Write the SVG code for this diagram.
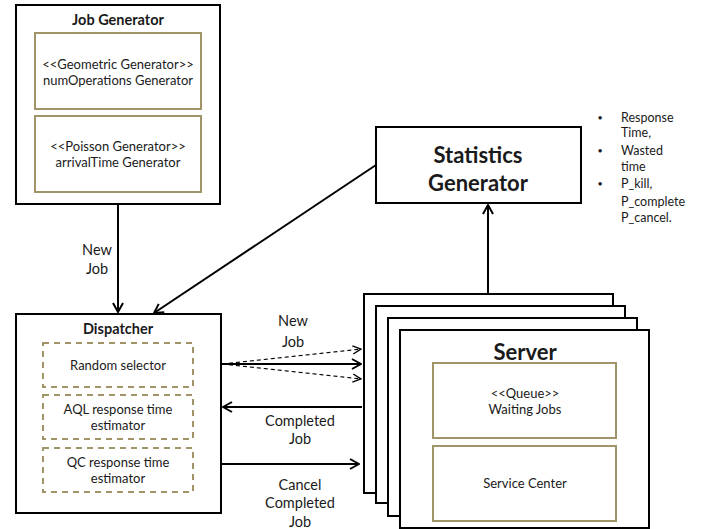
<svg xmlns="http://www.w3.org/2000/svg" width="716" height="529" viewBox="0 0 716 529">
<defs>
<style>
text{font-family:Lato,"Open Sans","Liberation Sans",sans-serif;fill:#1a1a1a;text-anchor:middle}
.box{fill:#fff;stroke:#000;stroke-width:2}
.inner{fill:#fff;stroke:#a09468;stroke-width:2}
.dash{fill:none;stroke:#a09468;stroke-width:2;stroke-dasharray:6,5}
.t{font-size:13px}
.h{font-size:14.5px;font-weight:bold}
.big{font-size:22px;font-weight:bold}
.lbl{font-size:14.5px}
.conn{fill:none;stroke:#000;stroke-width:2}
.dconn{fill:none;stroke:#000;stroke-width:1.2;stroke-dasharray:4,3}
.bl{font-size:12.5px;text-anchor:start}
.bul{font-size:9px;text-anchor:middle}
</style>
<marker id="ah" viewBox="0 0 12 12" refX="11" refY="6" markerWidth="12" markerHeight="12" markerUnits="userSpaceOnUse" orient="auto">
<path d="M2,1 L11,6 L2,11" fill="none" stroke="#000" stroke-width="2"/>
</marker>
<marker id="ahs" viewBox="0 0 12 12" refX="11" refY="6" markerWidth="11" markerHeight="11" markerUnits="userSpaceOnUse" orient="auto">
<path d="M2,1.5 L11,6 L2,10.5" fill="none" stroke="#000" stroke-width="1.5"/>
</marker>
</defs>

<g id="job-generator">
<rect class="box" x="16" y="5" width="204" height="199"/>
<text class="h" x="118" y="25">Job Generator</text>
<rect class="inner" x="35" y="33" width="166" height="76"/>
<text class="t" x="118" y="69">&lt;&lt;Geometric Generator&gt;&gt;</text>
<text class="t" x="118" y="85">numOperations Generator</text>
<rect class="inner" x="35" y="116" width="166" height="76"/>
<text class="t" x="118" y="151">&lt;&lt;Poisson Generator&gt;&gt;</text>
<text class="t" x="118" y="167">arrivalTime Generator</text>
</g>

<g id="dispatcher">
<rect class="box" x="16" y="314" width="205" height="199"/>
<text class="h" x="118" y="334">Dispatcher</text>
<rect class="dash" x="43" y="343" width="150" height="44"/>
<text class="t" x="118" y="370">Random selector</text>
<rect class="dash" x="43" y="395" width="150" height="44"/>
<text class="t" x="118" y="414">AQL response time</text>
<text class="t" x="118" y="430">estimator</text>
<rect class="dash" x="43" y="448" width="150" height="44"/>
<text class="t" x="118" y="467">QC response time</text>
<text class="t" x="118" y="483">estimator</text>
</g>

<g id="statistics-generator">
<rect class="box" x="376" y="127" width="205" height="76"/>
<text class="big" x="478" y="163">Statistics</text>
<text class="big" x="478" y="191">Generator</text>
</g>

<g id="stats-list">
<text class="bul" x="600" y="121">•</text>
<text class="bl" x="621" y="122">Response</text>
<text class="bl" x="621" y="137">Time,</text>
<text class="bul" x="600" y="154">•</text>
<text class="bl" x="621" y="155">Wasted</text>
<text class="bl" x="621" y="171">time</text>
<text class="bul" x="600" y="187">•</text>
<text class="bl" x="621" y="188"> P_kill,</text>
<text class="bl" x="621" y="206">P_complete</text>
<text class="bl" x="621" y="222">P_cancel.</text>
</g>

<g id="server">
<rect class="box" x="364" y="294" width="249" height="199"/>
<rect class="box" x="376" y="306" width="249" height="197"/>
<rect class="box" x="388" y="318" width="249" height="198"/>
<rect class="box" x="400" y="330" width="249" height="198"/>
<text class="big" x="525" y="360">Server</text>
<rect class="inner" x="433" y="363" width="183" height="75"/>
<text class="t" x="525" y="398">&lt;&lt;Queue&gt;&gt;</text>
<text class="t" x="525" y="414">Waiting Jobs</text>
<rect class="inner" x="433" y="446" width="183" height="75"/>
<text class="t" x="525" y="488">Service Center</text>
</g>

<g id="connectors">
<line class="conn" x1="118" y1="205" x2="118" y2="312" marker-end="url(#ah)"/>
<line class="conn" x1="376" y1="165" x2="154" y2="313" marker-end="url(#ah)"/>
<line class="conn" x1="488" y1="293" x2="488" y2="205" marker-end="url(#ah)"/>
<line class="conn" x1="222" y1="364" x2="361" y2="364" marker-end="url(#ah)"/>
<line class="dconn" x1="222" y1="364" x2="361" y2="349" marker-end="url(#ahs)"/>
<line class="dconn" x1="222" y1="364" x2="361" y2="379" marker-end="url(#ahs)"/>
<line class="conn" x1="362" y1="407" x2="223" y2="407" marker-end="url(#ah)"/>
<line class="conn" x1="222" y1="464" x2="359" y2="464" marker-end="url(#ah)"/>
<text class="lbl" x="97" y="255">New</text>
<text class="lbl" x="97" y="274">Job</text>
<text class="lbl" x="293" y="326">New</text>
<text class="lbl" x="293" y="347">Job</text>
<text class="lbl" x="300" y="426">Completed</text>
<text class="lbl" x="300" y="444">Job</text>
<text class="lbl" x="300" y="490">Cancel</text>
<text class="lbl" x="300" y="508">Completed</text>
<text class="lbl" x="300" y="527">Job</text>
</g>
</svg>
